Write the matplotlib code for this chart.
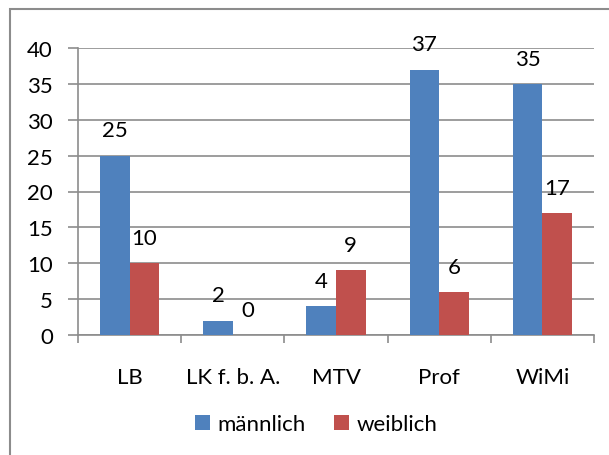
import numpy as np
import matplotlib.pyplot as plt
from matplotlib.patches import Rectangle

# Data
categories = ["LB", "LK f. b. A.", "MTV", "Prof", "WiMi"]
maennlich = [25, 2, 4, 37, 35]
weiblich = [10, 0, 9, 6, 17]

plt.rcParams['font.family'] = ['Lato', 'DejaVu Sans']
FS = 16

fig = plt.figure(figsize=(6.09, 4.56), dpi=100)
W, H = 609, 456
ax = fig.add_axes([78 / W, 1 - 336 / H, (594 - 78) / W, (336 - 49) / H])

x = np.arange(len(categories))
bw = 0.286
b1 = ax.bar(x - bw / 2, maennlich, bw, color="#4F81BD", zorder=3)
b2 = ax.bar(x + bw / 2, weiblich, bw, color="#C0504D", zorder=3)

for bars, vals in ((b1, maennlich), (b2, weiblich)):
    for rect, v in zip(bars, vals):
        ax.annotate(str(v), (rect.get_x() + rect.get_width() / 2, v),
                    xytext=(0, 11), textcoords="offset points",
                    ha="center", va="bottom", fontsize=FS, color="black")

grid_c = "#8c8c8c"
ax.set_xlim(-0.5, len(categories) - 0.5)
ax.set_ylim(0, 40)
ax.set_yticks(range(0, 41, 5))
ax.yaxis.grid(True, color=grid_c, linewidth=1.2, zorder=0)
ax.set_axisbelow(True)

for s in ("top", "right"):
    ax.spines[s].set_visible(False)
for s in ("left", "bottom"):
    ax.spines[s].set_color(grid_c)
    ax.spines[s].set_linewidth(1.2)

ax.set_xticks(np.arange(-0.5, len(categories), 1.0))
ax.set_xticklabels([])
ax.set_xticks(x, minor=True)
ax.set_xticklabels(categories, minor=True)
ax.tick_params(axis="x", which="major", length=6, width=1.2, color=grid_c, direction="out")
ax.tick_params(axis="x", which="minor", length=0, pad=23, labelsize=FS)
ax.tick_params(axis="y", length=7, width=1.2, color=grid_c, labelsize=FS, pad=11)

ax.legend([b1, b2], ["männlich", "weiblich"], loc="center",
          bbox_to_anchor=(316 / W, 1 - 425 / H), bbox_transform=fig.transFigure,
          ncol=2, frameon=False, fontsize=FS, handlelength=0.68, handleheight=0.68,
          handletextpad=0.35, columnspacing=1.25)

# outer chart border (cropped)
fig.patches.append(Rectangle((10 / W, -0.1), 1.2, 1 - 10 / H + 0.1,
                             transform=fig.transFigure, fill=False,
                             edgecolor="#8c8c8c", linewidth=1.5))

fig.savefig("out.png", dpi=100)
